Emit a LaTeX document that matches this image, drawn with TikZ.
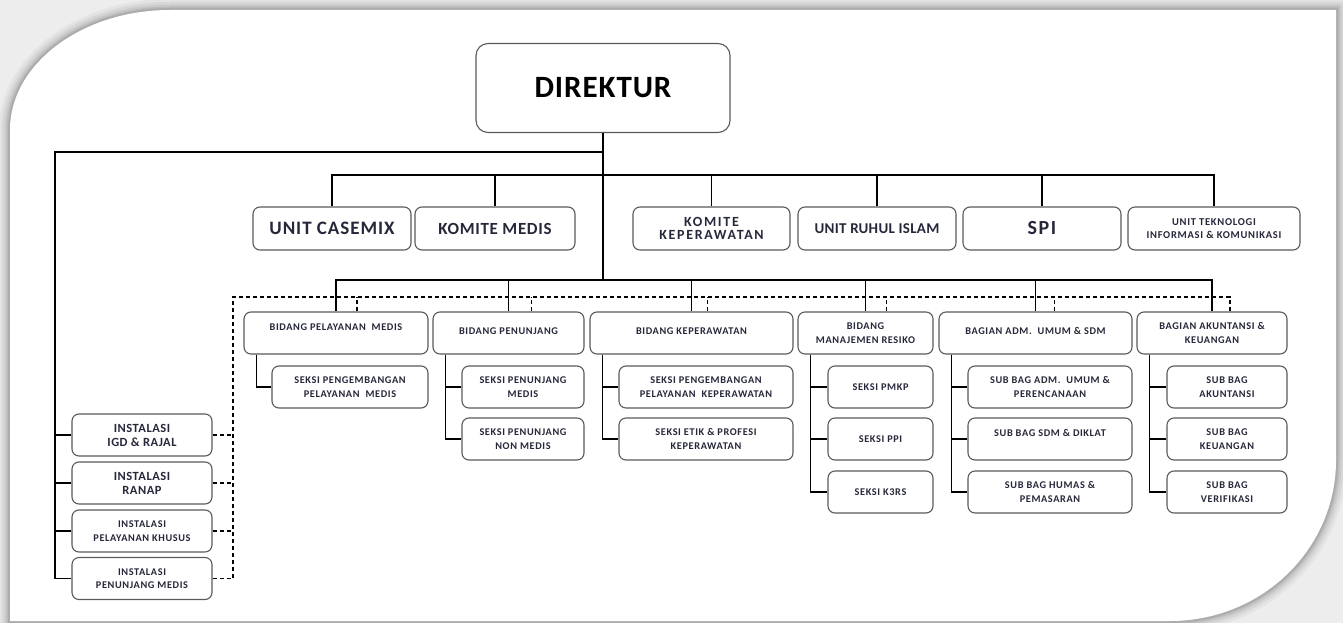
\documentclass[tikz,border=0pt]{standalone}
\usepackage{fontspec}
\setmainfont{Carlito}
\definecolor{boxc}{HTML}{5A5A5A}
\definecolor{txt}{HTML}{26283A}
\definecolor{bgc}{HTML}{EDEDED}
\newcommand{\fsz}[2]{\fontsize{#1}{#2}\selectfont}
\newcommand{\lsp}[1]{\addfontfeatures{LetterSpace=#1}}
\begin{document}
\begin{tikzpicture}[x=1pt,y=-1pt,
  box/.style={draw=boxc, line width=1.1pt, rounded corners=7pt, fill=white, inner sep=0pt, text=txt, align=center},
  small/.style={font=\bfseries\fsz{10.3}{13.5}\lsp{6}},
  con/.style={line width=1.8pt, draw=black},
  dsh/.style={line width=1.1pt, draw=black, dash pattern=on 4pt off 3pt},
  bid/.style={box, small, minimum height=42pt},
  sub/.style={box, small, minimum height=42pt},
  inst/.style={box, minimum width=140pt, minimum height=42pt},
  unit/.style={box, minimum height=43pt}
]
\useasboundingbox (0,0) rectangle (1343,623);
\fill[bgc] (0,0) rectangle (1343,623);
% frame shadow
\foreach \w/\o in {22/0.04,16/0.05,11/0.06,7/0.07,4/0.08}{
  \draw[line width=\w pt, draw=black, opacity=\o]
    (10,130) .. controls (10,64) and (82,10) .. (170,10) -- (1336,10) -- (1336,460)
    .. controls (1336,549) and (1262,621) .. (1170,621) -- (10,621) -- cycle;
}
\fill[white] (10,130) .. controls (10,64) and (82,10) .. (170,10) -- (1336,10) -- (1336,460)
    .. controls (1336,549) and (1262,621) .. (1170,621) -- (10,621) -- cycle;

% top
\node[box, minimum width=254pt, minimum height=89pt, rounded corners=12pt, text=black,
      font=\bfseries\fsz{31}{36}\lsp{3}] (dir) at (603,88) {DIREKTUR};

% units
\node[unit, minimum width=158pt, font=\bfseries\fsz{19}{22}\lsp{5}] (u1) at (332,228.5) {UNIT CASEMIX};
\node[unit, minimum width=160pt, font=\bfseries\fsz{17}{20}\lsp{4}] (u2) at (495,228.5) {KOMITE MEDIS};
\node[unit, minimum width=157pt, font=\bfseries\fsz{14}{13}\lsp{12}] (u3) at (711.5,228.5) {KOMITE\\KEPERAWATAN};
\node[unit, minimum width=158pt, font=\bfseries\fsz{15}{17}\lsp{2}] (u4) at (877,228.5) {UNIT RUHUL ISLAM};
\node[unit, minimum width=158pt, font=\bfseries\fsz{20}{22}\lsp{8}] (u5) at (1042,228.5) {SPI};
\node[unit, minimum width=172pt, font=\bfseries\fsz{10.5}{12.5}\lsp{7}] (u6) at (1214,228.5) {UNIT TEKNOLOGI\\INFORMASI \& KOMUNIKASI};

% bidang
\node[bid, minimum width=184pt, text depth=12pt] (b1) at (336,333) {BIDANG PELAYANAN~~MEDIS};
\node[bid, minimum width=151pt, text depth=4pt] (b2) at (508.5,333) {BIDANG PENUNJANG};
\node[bid, minimum width=203pt, text depth=4pt] (b3) at (691.5,333) {BIDANG KEPERAWATAN};
\node[bid, minimum width=135pt] (b4) at (865.5,333) {BIDANG\\MANAJEMEN RESIKO};
\node[bid, minimum width=193pt, text depth=4pt] (b5) at (1035.5,333) {BAGIAN ADM.~ UMUM \& SDM};
\node[bid, minimum width=150pt] (b6) at (1212,333) {BAGIAN AKUNTANSI \&\\KEUANGAN};

% seksi / sub bag
\node[sub, minimum width=156pt] (s11) at (350,387) {SEKSI PENGEMBANGAN\\PELAYANAN~~MEDIS};
\node[sub, minimum width=122pt] (s21) at (523,387) {SEKSI PENUNJANG\\MEDIS};
\node[sub, minimum width=122pt] (s22) at (523,439) {SEKSI PENUNJANG\\NON MEDIS};
\node[sub, minimum width=174pt] (s31) at (706,387) {SEKSI PENGEMBANGAN\\PELAYANAN~~KEPERAWATAN};
\node[sub, minimum width=174pt] (s32) at (706,439) {SEKSI ETIK \& PROFESI\\KEPERAWATAN};
\node[sub, minimum width=105pt] (s41) at (880.5,387) {SEKSI PMKP};
\node[sub, minimum width=105pt] (s42) at (880.5,439) {SEKSI PPI};
\node[sub, minimum width=105pt] (s43) at (880.5,492) {SEKSI K3RS};
\node[sub, minimum width=164pt] (s51) at (1050,387) {SUB BAG ADM.~ UMUM \&\\PERENCANAAN};
\node[sub, minimum width=164pt, text depth=12pt] (s52) at (1050,439) {SUB BAG SDM \& DIKLAT};
\node[sub, minimum width=164pt] (s53) at (1050,492) {SUB BAG HUMAS \&\\PEMASARAN};
\node[sub, minimum width=120pt] (s61) at (1227,387) {SUB BAG\\AKUNTANSI};
\node[sub, minimum width=120pt] (s62) at (1227,439) {SUB BAG\\KEUANGAN};
\node[sub, minimum width=120pt] (s63) at (1227,492) {SUB BAG\\VERIFIKASI};

% instalasi
\node[inst, font=\bfseries\fsz{12.5}{14}\lsp{4}] (i1) at (142,435) {INSTALASI\\IGD \& RAJAL};
\node[inst, font=\bfseries\fsz{12.5}{14}\lsp{4}] (i2) at (142,483) {INSTALASI\\RANAP};
\node[inst, small] (i3) at (142,531) {INSTALASI\\PELAYANAN KHUSUS};
\node[inst, small] (i4) at (142,578.5) {INSTALASI\\PENUNJANG MEDIS};

% solid connectors
\coordinate (j1) at (603,152);
\coordinate (ub) at (603,175);
\coordinate (bb) at (603,280);
\coordinate (lc) at (55,152);
\draw[con] (dir.south) -- (bb);
\draw[con] (j1) -- (lc) |- (i4.west);
\foreach \n in {i1,i2,i3} \draw[con] (lc |- \n.west) -- (\n.west);
\draw[con] (u1.north) |- (ub) -| (u6.north);
\foreach \n in {u2,u3,u4,u5} \draw[con] (\n.north) -- (\n.north |- ub);
\draw[con] (b1.north) |- (bb) -| (b6.north);
\foreach \n in {b2,b3,b4,b5} \draw[con] (\n.north) -- (\n.north |- bb);
\draw[con] ([xshift=13pt]b1.south west) |- (s11.west);
\foreach \n in {s21,s22} \draw[con] ([xshift=13pt]b2.south west) |- (\n.west);
\foreach \n in {s31,s32} \draw[con] ([xshift=13pt]b3.south west) |- (\n.west);
\foreach \n in {s41,s42,s43} \draw[con] ([xshift=13pt]b4.south west) |- (\n.west);
\foreach \n in {s51,s52,s53} \draw[con] ([xshift=13pt]b5.south west) |- (\n.west);
\foreach \n in {s61,s62,s63} \draw[con] ([xshift=13pt]b6.south west) |- (\n.west);

% dashed connectors
\coordinate (dl) at (233,297);
\draw[dsh] (i4.east) -| (dl) -| ([xshift=18pt]b6.north);
\foreach \n/\s in {b1/21,b2/23,b3/16,b4/21,b5/19} \draw[dsh] ([xshift=\s pt]\n.north) -- ([xshift=\s pt]\n.north |- dl);
\foreach \n in {i1,i2,i3} \draw[dsh] (\n.east) -- (\n.east -| dl);
\end{tikzpicture}
\end{document}
